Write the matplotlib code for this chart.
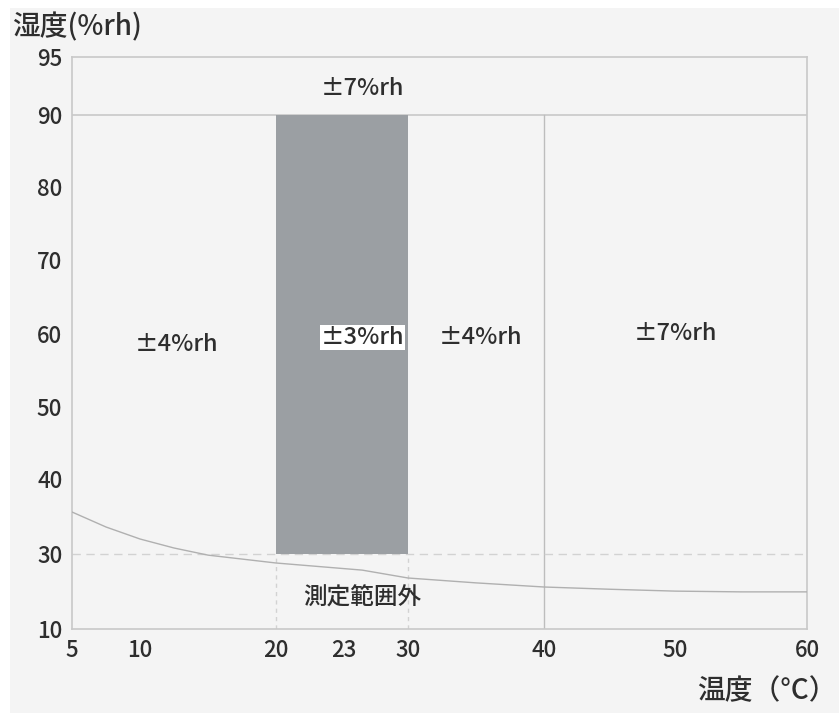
import numpy as np
import matplotlib.pyplot as plt
from matplotlib.patches import Rectangle

plt.rcParams['font.family'] = ['Noto Sans CJK JP', 'DejaVu Sans']

# 目盛り（軸は等間隔ではない）
x_ticks = [5, 10, 20, 23, 30, 40, 50, 60]
y_ticks = [10, 30, 40, 50, 60, 70, 80, 90, 95]

# 画面上の位置（読み取り）
x_knots = [5, 20, 23, 30, 40, 60]
x_knots_pos = [0, 204, 272, 336, 472, 735]
y_knots = [10, 30, 40, 50, 60, 70, 80, 90, 95]
y_knots_pos = [0, 75, 150, 222, 295, 369, 442, 514, 572]

# 下限曲線（測定範囲外の境界）
curva_t = [5, 7.5, 10, 12.5, 15, 20, 25, 30, 35, 40, 45, 50, 55, 60]
curva_h = [35.6, 33.6, 32.0, 30.8, 29.7, 27.6, 25.7, 23.6, 22.3, 21.2, 20.6, 20.1, 19.9, 19.9]

# 精度ゾーン
zona_alta = (20, 30, 30, 90)  # t0, t1, h0, h1

etiquetas = [
    (12.7, 58.5, "±4%rh"),
    (25.0, 59.5, "±3%rh"),
    (35.3, 59.5, "±4%rh"),
    (50.0, 60.0, "±7%rh"),
    (25.0, 92.3, "±7%rh"),
    (25.0, 18.3, "測定範囲外"),
]


def fx(v):
    return np.interp(v, x_knots, x_knots_pos)


def fx_inv(v):
    return np.interp(v, x_knots_pos, x_knots)


def fy(v):
    return np.interp(v, y_knots, y_knots_pos)


def fy_inv(v):
    return np.interp(v, y_knots_pos, y_knots)


fondo = "#f4f4f4"
gris_linea = "#c8c8c8"
texto = "#2e2e2e"

fig = plt.figure(figsize=(8.39, 7.13), dpi=100)
fig.patch.set_facecolor("white")
fig.patches.append(Rectangle((10 / 839, 0), 1, 1 - 8 / 713, transform=fig.transFigure,
                             facecolor=fondo, edgecolor="none", zorder=-10))

ax = fig.add_axes([72 / 839, (713 - 629) / 713, 735 / 839, 572 / 713])
ax.set_facecolor(fondo)
ax.set_xscale("function", functions=(fx, fx_inv))
ax.set_yscale("function", functions=(fy, fy_inv))
ax.set_xlim(5, 60)
ax.set_ylim(10, 95)

t0, t1, h0, h1 = zona_alta
ax.fill_between([t0, t1], h0, h1, color="#9b9fa3", lw=0, zorder=2)

ax.plot([5, 60], [90, 90], color=gris_linea, lw=1.2, zorder=1)
ax.plot([40, 40], [10, 90], color="#bdbdbd", lw=1.0, zorder=1)
ax.plot([5, 60], [30, 30], color="#d2d2d2", lw=1.0, ls=(0, (6, 4)), zorder=1)
for xv in (20, 30):
    ax.plot([xv, xv], [10, 30], color="#d2d2d2", lw=1.0, ls=(0, (3, 3)), zorder=1)

ax.plot(curva_t, curva_h, color="#b0b0b0", lw=1.0, zorder=3)

for x, y, s in etiquetas:
    kw = {}
    if s == "±3%rh":
        kw["bbox"] = dict(facecolor="white", edgecolor="none", pad=0.5)
    ax.text(x, y, s, ha="center", va="center", fontsize=17, color=texto,
            fontweight="medium", zorder=5, **kw)

for sp in ax.spines.values():
    sp.set_color(gris_linea)
    sp.set_linewidth(1.2)

ax.set_xticks(x_ticks)
ax.set_xticklabels([str(v) for v in x_ticks])
ax.set_yticks(y_ticks)
ax.set_yticklabels([str(v) for v in y_ticks])
ax.tick_params(length=0, labelsize=16, colors=texto, pad=7)
for lab in ax.get_xticklabels() + ax.get_yticklabels():
    lab.set_fontweight("medium")
ax.xaxis.set_minor_locator(plt.NullLocator())
ax.yaxis.set_minor_locator(plt.NullLocator())

fig.text(12 / 839, 1 - 27 / 713, "湿度(%rh)", fontsize=20, color=texto,
         fontweight="medium", ha="left", va="center")
fig.text(837 / 839, 1 - 691 / 713, "温度（°C）", fontsize=20, color=texto,
         fontweight="medium", ha="right", va="center")

fig.savefig("out.png", dpi=100, facecolor=fig.get_facecolor())
